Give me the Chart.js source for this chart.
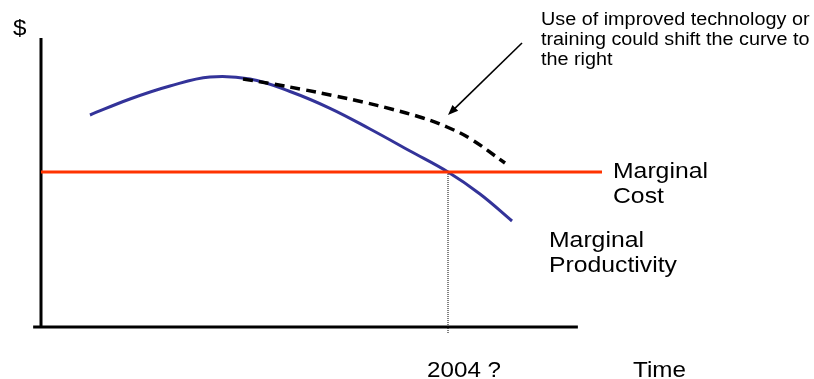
<!DOCTYPE html>
<html>
<head>
<meta charset="utf-8">
<script src="https://cdn.jsdelivr.net/npm/chart.js@4/dist/chart.umd.min.js"></script>
<style>
  html, body { margin: 0; padding: 0; background: #fff; }
  canvas { display: block; }
</style>
</head>
<body>
<canvas id="mpChart" width="814" height="379"></canvas>
<script>
// Data (abstract units: time 0-100, $ 0-100)
const productivityX = [8.73, 15.86, 22.99, 30.12, 37.25, 44.39, 51.52, 58.65, 65.78, 72.55, 78.25, 83.96];
const productivityY = [73.36, 78.89, 83.39, 86.50, 85.81, 81.49, 75.67, 68.51, 60.90, 53.63, 46.02, 36.68];
const shiftedX = [36.01, 41.35, 46.70, 52.05, 57.40, 62.75, 68.09, 72.37, 76.47, 82.71];
const shiftedY = [85.81, 84.08, 82.18, 80.10, 77.85, 75.26, 72.32, 69.20, 65.22, 56.75];
const costX = [0, 100];
const costY = [53.63, 53.63];
const crossingTime = 72.55;
const crossingLabel = '2004 ?';

const toPoints = (xs, ys) => xs.map((x, i) => ({ x: x, y: ys[i] }));

// Axis lines, labels and arrow
const decorations = {
    id: 'decorations',
    beforeDatasetsDraw(chart) {
        const { ctx, scales: { x, y } } = chart;
        ctx.save();
        ctx.strokeStyle = '#000';
        ctx.lineWidth = 3;
        ctx.beginPath();
        ctx.moveTo(x.getPixelForValue(0), y.getPixelForValue(100));
        ctx.lineTo(x.getPixelForValue(0), y.getPixelForValue(0));
        ctx.stroke();
        ctx.beginPath();
        ctx.moveTo(x.getPixelForValue(-1.4), y.getPixelForValue(0));
        ctx.lineTo(x.getPixelForValue(95.7), y.getPixelForValue(0));
        ctx.stroke();
        ctx.restore();
    },
    afterDatasetsDraw(chart) {
        const { ctx, scales: { x, y } } = chart;
        const text = (t, px, py, size) => {
            ctx.save();
            ctx.font = size + 'px "Liberation Sans", Arial, sans-serif';
            ctx.fillStyle = '#000';
            ctx.textBaseline = 'alphabetic';
            ctx.translate(px, py);
            ctx.scale(1.1, 1);
            ctx.fillText(t, 0, 0);
            ctx.restore();
        };
        text('$', 13, 35, 22);
        text('Use of improved technology or', 541, 25, 18);
        text('training could shift the curve to', 541, 45, 18);
        text('the right', 541, 65, 18);
        text('Marginal', 613, 178, 22.5);
        text('Cost', 613, 203, 22.5);
        text('Marginal', 549, 247, 22.5);
        text('Productivity', 549, 272, 22.5);
        text('Time', 633, 377, 22);
        text(crossingLabel, x.getPixelForValue(crossingTime) - 21, 377, 22);

        // arrow
        const x1 = 522, y1 = 43, x2 = 448, y2 = 115;
        const ang = Math.atan2(y2 - y1, x2 - x1);
        ctx.save();
        ctx.strokeStyle = '#000';
        ctx.fillStyle = '#000';
        ctx.lineWidth = 1.6;
        ctx.beginPath();
        ctx.moveTo(x1, y1);
        ctx.lineTo(x2 - 6 * Math.cos(ang), y2 - 6 * Math.sin(ang));
        ctx.stroke();
        ctx.beginPath();
        ctx.moveTo(x2, y2);
        ctx.lineTo(x2 - 11 * Math.cos(ang - 0.38), y2 - 11 * Math.sin(ang - 0.38));
        ctx.lineTo(x2 - 11 * Math.cos(ang + 0.38), y2 - 11 * Math.sin(ang + 0.38));
        ctx.closePath();
        ctx.fill();
        ctx.restore();
    }
};

const ctx = document.getElementById('mpChart').getContext('2d');
new Chart(ctx, {
    type: 'line',
    data: {
        datasets: [
            {
                label: 'Marginal Cost',
                data: toPoints(costX, costY),
                borderColor: '#ff3300',
                borderWidth: 3,
                pointRadius: 0,
                tension: 0
            },
            {
                label: 'Crossing',
                data: toPoints([crossingTime, crossingTime], [costY[0], -2.1]),
                borderColor: '#000',
                borderWidth: 1,
                borderDash: [1, 1],
                pointRadius: 0,
                clip: false
            },
            {
                label: 'Shifted',
                data: toPoints(shiftedX, shiftedY),
                borderColor: '#000',
                borderWidth: 3.5,
                borderDash: [10, 6],
                pointRadius: 0,
                tension: 0.4
            },
            {
                label: 'Marginal Productivity',
                data: toPoints(productivityX, productivityY),
                borderColor: '#333399',
                borderWidth: 3,
                pointRadius: 0,
                tension: 0.4
            }
        ]
    },
    options: {
        responsive: false,
        animation: false,
        devicePixelRatio: 1,
        layout: { padding: { left: 41, right: 212, top: 38, bottom: 52 } },
        scales: {
            x: { type: 'linear', min: 0, max: 100, display: false },
            y: { type: 'linear', min: 0, max: 100, display: false }
        },
        plugins: {
            legend: { display: false },
            tooltip: { enabled: false }
        }
    },
    plugins: [decorations]
});
</script>
</body>
</html>
